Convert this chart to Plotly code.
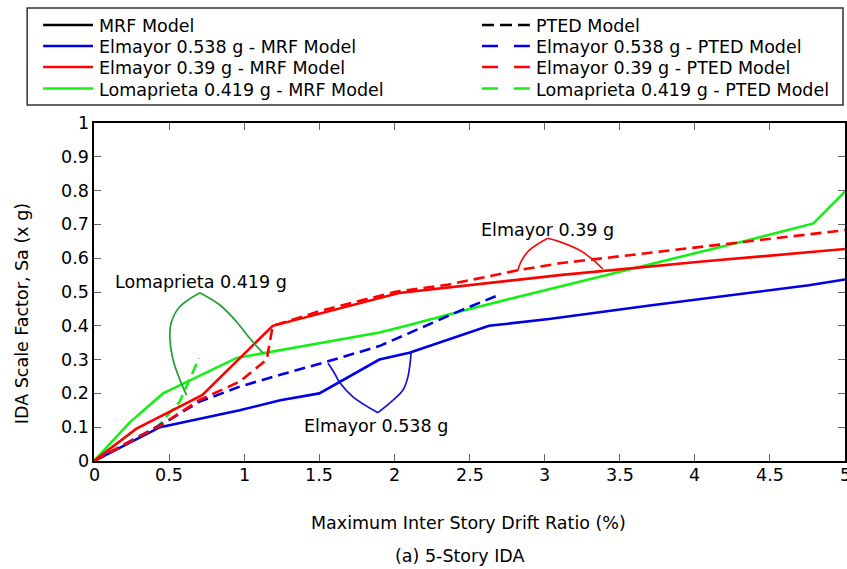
import plotly.graph_objects as go

# ---------------- data ----------------
mrf_elmayor538_x = [0, 0.44, 0.97, 1.24, 1.5, 1.9, 2.1, 2.63, 3.03, 3.7, 4.76, 5.0]
mrf_elmayor538_y = [0, 0.10, 0.15, 0.18, 0.20, 0.30, 0.32, 0.40, 0.42, 0.46, 0.52, 0.537]

pted_elmayor538_x = [0, 0.48, 0.70, 0.97, 1.24, 1.52, 1.9, 2.45, 2.71]
pted_elmayor538_y = [0, 0.116, 0.175, 0.22, 0.255, 0.29, 0.34, 0.447, 0.494]

mrf_elmayor39_x = [0, 0.28, 0.72, 1.19, 2.03, 3.1, 4.05, 5.0]
mrf_elmayor39_y = [0, 0.095, 0.195, 0.40, 0.497, 0.55, 0.59, 0.627]

pted_elmayor39_x = [0, 0.46, 0.70, 0.97, 1.15, 1.19, 1.5, 2.0, 2.35, 2.83, 3.1, 4.05, 5.0]
pted_elmayor39_y = [0, 0.11, 0.18, 0.235, 0.30, 0.40, 0.443, 0.50, 0.521, 0.565, 0.585, 0.634, 0.683]

mrf_loma_x = [0, 0.24, 0.46, 0.95, 1.9, 2.08, 2.5, 3.0, 3.68, 4.36, 4.79, 5.0]
mrf_loma_y = [0, 0.115, 0.20, 0.305, 0.38, 0.40, 0.45, 0.505, 0.578, 0.654, 0.703, 0.797]

pted_loma_x = [0, 0.42, 0.57, 0.70]
pted_loma_y = [0, 0.10, 0.175, 0.305]

# callout curves (two branches each)
loma_call_l_x = [0.705, 0.572, 0.516, 0.505, 0.527, 0.572, 0.616]
loma_call_l_y = [0.498, 0.457, 0.412, 0.368, 0.299, 0.24, 0.195]
loma_call_r_x = [0.705, 0.838, 0.949, 1.037, 1.126]
loma_call_r_y = [0.498, 0.4615, 0.412, 0.363, 0.319]

e538_call_l_x = [1.558, 1.602, 1.636, 1.724, 1.89]
e538_call_l_y = [0.289, 0.259, 0.232, 0.19, 0.143]
e538_call_r_x = [1.89, 1.968, 2.057, 2.09, 2.112]
e538_call_r_y = [0.143, 0.171, 0.21, 0.249, 0.323]

e39_call_l_x = [2.821, 2.843, 2.899, 3.021]
e39_call_l_y = [0.563, 0.590, 0.624, 0.659]
e39_call_r_x = [3.021, 3.098, 3.231, 3.309, 3.387]
e39_call_r_y = [0.659, 0.649, 0.624, 0.600, 0.568]

x_ticks = [0, 0.5, 1, 1.5, 2, 2.5, 3, 3.5, 4, 4.5, 5]
x_tick_labels = ["0", "0.5", "1", "1.5", "2", "2.5", "3", "3.5", "4", "4.5", "5"]
y_ticks = [0, 0.1, 0.2, 0.3, 0.4, 0.5, 0.6, 0.7, 0.8, 0.9, 1]
y_tick_labels = ["0", "0.1", "0.2", "0.3", "0.4", "0.5", "0.6", "0.7", "0.8", "0.9", "1"]

legend_col1 = ["MRF Model", "Elmayor 0.538 g - MRF Model",
               "Elmayor 0.39 g - MRF Model", "Lomaprieta 0.419 g - MRF Model"]
legend_col2 = ["PTED Model", "Elmayor 0.538 g - PTED Model",
               "Elmayor 0.39 g - PTED Model", "Lomaprieta 0.419 g - PTED Model"]

x_title = "Maximum Inter Story Drift Ratio (%)"
y_title = "IDA Scale Factor, Sa (x g)"
caption = "(a) 5-Story IDA"
call_labels = ["Lomaprieta 0.419 g", "Elmayor 0.538 g", "Elmayor 0.39 g"]

# ---------------- styling ----------------
W, H = 847, 569
L, R, T, B = 94, 0, 123, 108
PW, PH = W - L - R, H - T - B
FONT = "DejaVu Sans"
FS = 17.5
BLUE, RED, GREEN, BLACK = "#0000e6", "#ff0000", "#14f014", "#000000"
DASH = "11px,6px"


def px(x):
    return (x - L) / PW


def py(y):
    return (H - B - y) / PH


fig = go.Figure()


def line(x, y, color, dash="solid", width=2.6, shape="linear"):
    fig.add_trace(go.Scatter(x=x, y=y, mode="lines", showlegend=False,
                             hoverinfo="skip",
                             line=dict(color=color, width=width, dash=dash,
                                       shape=shape)))


line(mrf_loma_x, mrf_loma_y, GREEN)
line(pted_loma_x, pted_loma_y, GREEN, DASH)
line(mrf_elmayor538_x, mrf_elmayor538_y, BLUE)
line(pted_elmayor538_x, pted_elmayor538_y, BLUE, DASH)
line(mrf_elmayor39_x, mrf_elmayor39_y, RED)
line(pted_elmayor39_x, pted_elmayor39_y, RED, DASH)

CALL_G, CALL_B, CALL_R = "#20a030", "#1414d0", "#f01010"
line(loma_call_l_x, loma_call_l_y, CALL_G, width=1.7, shape="spline")
line(loma_call_r_x, loma_call_r_y, CALL_G, width=1.7, shape="spline")
line(e538_call_l_x, e538_call_l_y, CALL_B, width=1.7, shape="spline")
line(e538_call_r_x, e538_call_r_y, CALL_B, width=1.7, shape="spline")
line(e39_call_l_x, e39_call_l_y, CALL_R, width=1.7, shape="spline")
line(e39_call_r_x, e39_call_r_y, CALL_R, width=1.7, shape="spline")

shapes = []
annotations = []
tf = dict(family=FONT, size=FS, color="black")

# legend box
shapes.append(dict(type="rect", xref="paper", yref="paper",
                   x0=px(27), x1=px(845), y0=py(8), y1=py(105),
                   line=dict(color="#333333", width=1.5), fillcolor="white",
                   layer="above"))
row_y = [25, 46, 67, 88.5]
col1_colors = [BLACK, BLUE, RED, GREEN]
col2_dash = ["12px,6px", "16px,16px", "16px,16px", "16px,16px"]
for i in range(4):
    shapes.append(dict(type="line", xref="paper", yref="paper",
                       x0=px(43), x1=px(93), y0=py(row_y[i]), y1=py(row_y[i]),
                       line=dict(color=col1_colors[i], width=2.6)))
    shapes.append(dict(type="line", xref="paper", yref="paper",
                       x0=px(483), x1=px(531), y0=py(row_y[i]), y1=py(row_y[i]),
                       line=dict(color=col1_colors[i], width=2.6, dash=col2_dash[i])))
    annotations.append(dict(xref="paper", yref="paper", x=px(97), y=py(row_y[i] + 1),
                            text=legend_col1[i], showarrow=False,
                            xanchor="left", yanchor="middle", font=tf))
    annotations.append(dict(xref="paper", yref="paper", x=px(535), y=py(row_y[i] + 1),
                            text=legend_col2[i], showarrow=False,
                            xanchor="left", yanchor="middle", font=tf))

# callout labels
call_pos = [(113, 281.5), (303, 426), (480, 230)]
for t, (xx, yy) in zip(call_labels, call_pos):
    annotations.append(dict(xref="paper", yref="paper", x=px(xx), y=py(yy),
                            text=t, showarrow=False, xanchor="left", yanchor="middle",
                            font=tf))

# tick labels placed at the axis positions
for v, t in zip(x_ticks, x_tick_labels):
    annotations.append(dict(xref="x", yref="paper", x=v, y=py(475), text=t,
                            showarrow=False, xanchor="center", yanchor="middle",
                            font=tf))
for v, t in zip(y_ticks, y_tick_labels):
    annotations.append(dict(xref="paper", yref="y", x=px(91), y=v, text=t,
                            showarrow=False, xanchor="right", yanchor="middle",
                            font=tf))

# axis titles and caption
annotations.append(dict(xref="paper", yref="paper", x=px(469), y=py(523),
                        text=x_title, showarrow=False, xanchor="center",
                        yanchor="middle", font=tf))
annotations.append(dict(xref="paper", yref="paper", x=px(22), y=py(314),
                        text=y_title, showarrow=False, xanchor="center",
                        yanchor="middle", textangle=-90, font=tf))
annotations.append(dict(xref="paper", yref="paper", x=px(461), y=py(556),
                        text=caption, showarrow=False, xanchor="center",
                        yanchor="middle", font=tf))

axis_common = dict(showgrid=False, zeroline=False, showline=True, linecolor="black",
                   linewidth=2, ticks="inside", ticklen=7, tickwidth=1,
                   tickcolor="#666666", mirror="allticks", showticklabels=False)

fig.update_layout(
    width=W, height=H,
    margin=dict(l=L, r=R, t=T, b=B, pad=0),
    paper_bgcolor="white", plot_bgcolor="white",
    showlegend=False,
    xaxis=dict(range=[0, 5], tickvals=x_ticks, **axis_common),
    yaxis=dict(range=[0, 1], tickvals=y_ticks, **axis_common),
    shapes=shapes, annotations=annotations,
)

fig.write_html("out.html",
               config={"displayModeBar": False},
               post_script="document.body.style.margin='0';"
                           "document.body.style.overflow='hidden';")
